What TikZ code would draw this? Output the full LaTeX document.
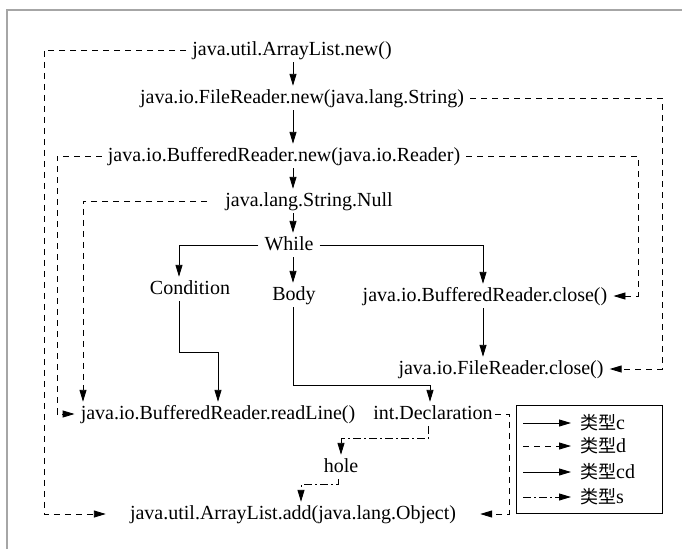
\documentclass[tikz,border=0pt]{standalone}
\usepackage{fontspec}
\setmainfont{Liberation Serif}
\newfontfamily\cjk{Noto Sans CJK SC}[Scale=0.9]
\usetikzlibrary{arrows.meta}
\newcommand{\callfont}{\fontsize{20pt}{22pt}\selectfont}
\newcommand{\keyfont}{\fontsize{20pt}{22pt}\selectfont}
\tikzset{
  call/.style={inner xsep=6pt, inner ysep=3pt, text height=14pt, text depth=4pt, font=\callfont},
  carrow/.style={-{Triangle[length=12pt,width=7pt]}, line width=0.9pt},
  darrow/.style={carrow, dash pattern=on 6pt off 5pt},
  sarrow/.style={carrow, dash pattern=on 8pt off 3pt on 2pt off 3pt},
  keylabel/.style={anchor=west, inner sep=0pt, font=\keyfont},
}

\begin{document}
\begin{tikzpicture}[x=1pt,y=-1pt]
\useasboundingbox (0,0) rectangle (682,549);
% page frame
\draw[black!35, line width=1.2pt] (7,549) |- (682,10);

% calls and control nodes
\node[call] (anew) at (292,50) {java.util.ArrayList.new()};
\node[call] (fnew) at (302,98) {java.io.FileReader.new(java.lang.String)};
\node[call] (bnew) at (284,156) {java.io.BufferedReader.new(java.io.Reader)};
\node[call] (snull) at (309,201) {java.lang.String.Null};
\node[call] (while) at (289,245) {While};
\node[call] (cond) at (190,289) {Condition};
\node[call] (body) at (294,295) {Body};
\node[call] (brclose) at (485,296) {java.io.BufferedReader.close()};
\node[call] (frclose) at (501,369) {java.io.FileReader.close()};
\node[call] (readline) at (218,414) {java.io.BufferedReader.readLine()};
\node[call] (decl) at (433,414) {int.Declaration};
\node[call] (hole) at (341,467) {hole};
\node[call, inner xsep=24pt] (add) at (293,514) {java.util.ArrayList.add(java.lang.Object)};

% x of the vertical runs
\coordinate (spine) at (293,0);
\coordinate (outerL) at (44,0);
\coordinate (midL) at (57,0);
\coordinate (innerL) at (83,0);
\coordinate (innerR) at (638,0);
\coordinate (outerR) at (662,0);
\coordinate (declR) at (509,0);

% solid edges
\draw[carrow] (anew.south -| spine) -- (fnew.north -| spine);
\draw[carrow] (fnew.south -| spine) -- (bnew.north -| spine);
\draw[carrow] (bnew.south -| spine) -- (snull.north -| spine);
\draw[carrow] (snull.south -| spine) -- (while.north -| spine);
\draw[carrow] (while.south -| spine) -- (body.north -| spine);
\draw[carrow] (while.west) -| ([xshift=-11pt]cond.north);
\draw[carrow] (while.east) -| ([xshift=-2pt]brclose.north);
\draw[carrow] ([xshift=-2pt]brclose.south) -- ([xshift=-2pt]brclose.south |- frclose.north);
\draw[carrow] ([xshift=-11pt]cond.south) |- ([yshift=49pt]readline.north) -- (readline.north);
\draw[carrow] (body.south -| spine) |- ([xshift=-3pt,yshift=16pt]decl.north) -- ([xshift=-3pt]decl.north);

% dash-dot edges
\draw[sarrow] ([xshift=-5pt]decl.south) |- ([yshift=16pt]hole.north) -- (hole.north);
\draw[sarrow] ([xshift=-3pt]hole.south) |- ([xshift=8pt,yshift=17pt]add.north) -- ([xshift=8pt]add.north);

% dashed edges
\draw[darrow] (anew.west) -| (outerL |- add.west) -- (add.west);
\draw[darrow] (bnew.west) -| (midL |- readline.west) -- (readline.west);
\draw[darrow, shorten <=12pt] (snull.west) -| (innerL |- readline.north);
\draw[darrow] (bnew.east) -| (innerR |- brclose.east) -- (brclose.east);
\draw[darrow] (fnew.east) -| (outerR |- frclose.east) -- (frclose.east);
\draw[darrow, shorten <=-4pt] (decl.east) -| (declR |- add.east) -- (add.east);

% legend
\node[draw, line width=0.9pt, minimum width=146pt, minimum height=108pt, inner sep=0pt] (legend) at (589,459) {};
\node[keylabel] (keyc) at (580,423) {{\cjk 类型}c};
\node[keylabel] (keyd) at (580,446) {{\cjk 类型}d};
\node[keylabel] (keycd) at (580,472) {{\cjk 类型}cd};
\node[keylabel] (keys) at (580,497) {{\cjk 类型}s};
\draw[carrow] ([xshift=-57pt]keyc.west) -- ([xshift=-9pt]keyc.west);
\draw[darrow] ([xshift=-57pt]keyd.west) -- ([xshift=-9pt]keyd.west);
\draw[carrow] ([xshift=-57pt]keycd.west) -- ([xshift=-9pt]keycd.west);
\draw[sarrow] ([xshift=-57pt]keys.west) -- ([xshift=-9pt]keys.west);
\end{tikzpicture}
\end{document}
